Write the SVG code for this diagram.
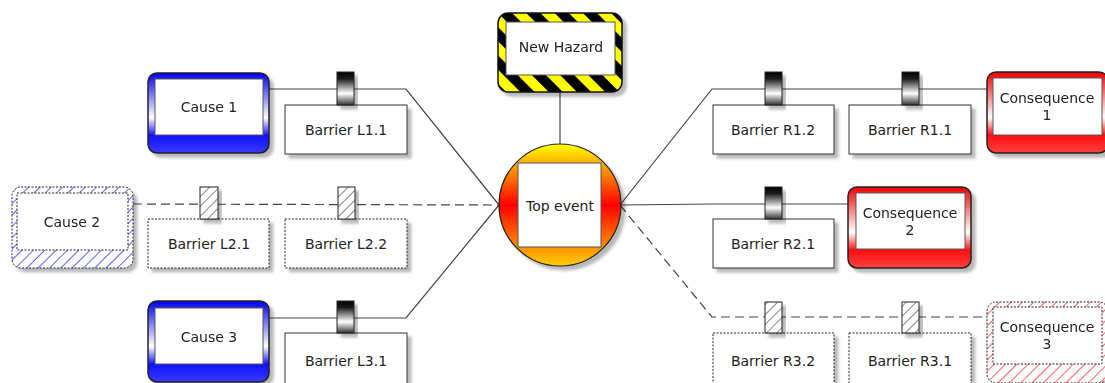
<svg xmlns="http://www.w3.org/2000/svg" width="1105" height="383" viewBox="0 0 1105 383">
<style>
text{font-family:"DejaVu Sans","Liberation Sans",sans-serif;font-size:14px;fill:#222;text-anchor:middle}
.ln{fill:none;stroke:#444;stroke-width:1.2}
.dash{stroke-dasharray:9 5}
.box{fill:#fff;stroke:#333;stroke-width:1}
.dbox{fill:#fff;stroke:#222;stroke-width:1;stroke-dasharray:2 1.5}
.inner{fill:#fff;stroke:#555;stroke-width:1}
.dinner{fill:#fff;stroke:#222;stroke-width:1;stroke-dasharray:2 1.5}
.barrel{fill:url(#gBarrel);stroke:#222;stroke-width:1}
.hbarrel{fill:url(#pBlack);stroke:#222;stroke-width:1}
.sh{filter:url(#shadow)}
</style>
<defs>
<filter id="shadow" x="-20%" y="-20%" width="140%" height="140%">
<feDropShadow dx="4" dy="4" stdDeviation="1.5" flood-color="#000" flood-opacity="0.28"/>
</filter>
<linearGradient id="gBlue" x1="0" y1="0" x2="0" y2="1">
<stop offset="0" stop-color="#0000f0"/><stop offset="0.56" stop-color="#ffffff"/><stop offset="0.78" stop-color="#1010ff"/><stop offset="1" stop-color="#3a3aff"/>
</linearGradient>
<linearGradient id="gRed" x1="0" y1="0" x2="0" y2="1">
<stop offset="0" stop-color="#f00000"/><stop offset="0.56" stop-color="#ffffff"/><stop offset="0.78" stop-color="#ff1010"/><stop offset="1" stop-color="#ff4040"/>
</linearGradient>
<linearGradient id="gBarrel" x1="0" y1="0" x2="0" y2="1">
<stop offset="0" stop-color="#000"/><stop offset="0.2" stop-color="#1a1a1a"/><stop offset="0.65" stop-color="#ffffff"/><stop offset="1" stop-color="#333"/>
</linearGradient>
<linearGradient id="gTop" x1="0" y1="0" x2="0" y2="1">
<stop offset="0" stop-color="#ffff00"/><stop offset="0.5" stop-color="#ff0000"/><stop offset="1" stop-color="#ffd000"/>
</linearGradient>
<pattern id="pBlue" width="8" height="8" patternUnits="userSpaceOnUse" patternTransform="rotate(45)">
<rect width="8" height="8" fill="#fff"/><line x1="0" y1="0" x2="0" y2="8" stroke="#3a3aff" stroke-width="1.6"/>
</pattern>
<pattern id="pRed" width="8" height="8" patternUnits="userSpaceOnUse" patternTransform="rotate(45)">
<rect width="8" height="8" fill="#fff"/><line x1="0" y1="0" x2="0" y2="8" stroke="#ff3a3a" stroke-width="1.6"/>
</pattern>
<pattern id="pBlack" width="7" height="7" patternUnits="userSpaceOnUse" patternTransform="rotate(45)">
<rect width="7" height="7" fill="#fff"/><line x1="0" y1="0" x2="0" y2="7" stroke="#333" stroke-width="1.2"/>
</pattern>
<pattern id="pHaz" width="20" height="20" patternUnits="userSpaceOnUse" patternTransform="translate(498,13) rotate(-45)">
<rect width="20" height="20" fill="#ffff00"/><rect width="10" height="20" fill="#000"/>
</pattern>
</defs>

<g id="connectors">
<path class="ln" d="M269,89 H406 L499,205"/>
<path class="ln dash" d="M133,204 L499,205"/>
<path class="ln" d="M269,318 H406 L499,205"/>
<path class="ln" d="M620,205 L712,89 H987"/>
<path class="ln" d="M620,205 L712,204 H848"/>
<path class="ln dash" d="M620,205 L712,317 H987"/>
<path class="ln" d="M560,92 V144"/>
</g>

<g id="hazard" class="sh">
<rect x="498" y="13" width="124" height="79" rx="10" fill="url(#pHaz)" stroke="#111" stroke-width="1.5"/>
<rect x="506" y="22" width="109" height="53" class="inner"/>
<text x="561" y="52">New Hazard</text>
</g>

<g id="top-event">
<circle cx="560" cy="205" r="61" fill="url(#gTop)" stroke="#222" stroke-width="1.2" class="sh"/>
<rect x="518" y="163" width="83" height="84" class="inner"/>
<text x="560" y="211">Top event</text>
</g>

<g id="cause1" class="sh">
<rect x="148" y="73" width="121" height="80" rx="9" fill="url(#gBlue)" stroke="#222" stroke-width="1.5"/>
<rect x="155" y="79" width="108" height="56" class="inner"/>
<text x="209" y="112">Cause 1</text>
</g>
<g id="cause2" class="sh">
<rect x="12" y="187" width="121" height="81" rx="9" fill="url(#pBlue)" stroke="#222" stroke-width="1" stroke-dasharray="2 1.5"/>
<rect x="17" y="193" width="111" height="57" class="dinner"/>
<text x="72" y="227">Cause 2</text>
</g>
<g id="cause3" class="sh">
<rect x="148" y="301" width="121" height="81" rx="9" fill="url(#gBlue)" stroke="#222" stroke-width="1.5"/>
<rect x="155" y="308" width="108" height="56" class="inner"/>
<text x="209" y="342">Cause 3</text>
</g>

<g id="barrierL11">
<rect x="285" y="105" width="122" height="49" class="box sh"/>
<rect x="337" y="72" width="17" height="33" class="barrel sh"/>
<text x="346" y="135">Barrier L1.1</text>
</g>
<g id="barrierL21">
<rect x="148" y="219" width="121" height="49" class="dbox sh"/>
<rect x="200" y="187" width="18" height="32" class="hbarrel sh"/>
<text x="209" y="249">Barrier L2.1</text>
</g>
<g id="barrierL22">
<rect x="285" y="219" width="122" height="49" class="dbox sh"/>
<rect x="338" y="187" width="17" height="32" class="hbarrel sh"/>
<text x="346" y="249">Barrier L2.2</text>
</g>
<g id="barrierL31">
<rect x="285" y="333" width="122" height="52" class="box sh"/>
<rect x="337" y="301" width="17" height="32" class="barrel sh"/>
<text x="346" y="366">Barrier L3.1</text>
</g>

<g id="barrierR12">
<rect x="713" y="105" width="121" height="49" class="box sh"/>
<rect x="765" y="72" width="17" height="33" class="barrel sh"/>
<text x="773" y="135">Barrier R1.2</text>
</g>
<g id="barrierR11">
<rect x="849" y="105" width="122" height="49" class="box sh"/>
<rect x="902" y="72" width="17" height="33" class="barrel sh"/>
<text x="910" y="135">Barrier R1.1</text>
</g>
<g id="barrierR21">
<rect x="713" y="219" width="121" height="49" class="box sh"/>
<rect x="765" y="187" width="17" height="32" class="barrel sh"/>
<text x="773" y="249">Barrier R2.1</text>
</g>
<g id="barrierR32">
<rect x="713" y="333" width="121" height="52" class="dbox sh"/>
<rect x="765" y="302" width="17" height="31" class="hbarrel sh"/>
<text x="773" y="366">Barrier R3.2</text>
</g>
<g id="barrierR31">
<rect x="849" y="333" width="122" height="52" class="dbox sh"/>
<rect x="902" y="302" width="17" height="31" class="hbarrel sh"/>
<text x="910" y="366">Barrier R3.1</text>
</g>

<g id="consequence1" class="sh">
<rect x="987" y="72" width="121" height="81" rx="9" fill="url(#gRed)" stroke="#222" stroke-width="1.5"/>
<rect x="993" y="78" width="109" height="57" class="inner"/>
<text x="1047" y="103">Consequence</text>
<text x="1047" y="120">1</text>
</g>
<g id="consequence2" class="sh">
<rect x="848" y="187" width="123" height="81" rx="9" fill="url(#gRed)" stroke="#222" stroke-width="1.5"/>
<rect x="856" y="193" width="109" height="56" class="inner"/>
<text x="910" y="218">Consequence</text>
<text x="910" y="235">2</text>
</g>
<g id="consequence3" class="sh">
<rect x="987" y="302" width="121" height="81" rx="9" fill="url(#pRed)" stroke="#222" stroke-width="1" stroke-dasharray="2 1.5"/>
<rect x="993" y="307" width="109" height="57" class="dinner"/>
<text x="1047" y="332">Consequence</text>
<text x="1047" y="349">3</text>
</g>
</svg>
